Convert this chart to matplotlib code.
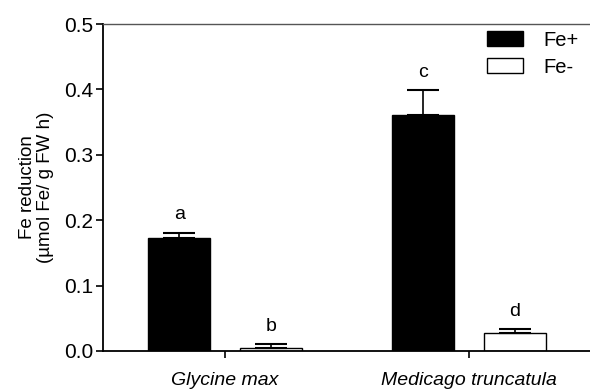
import numpy as np
import matplotlib.pyplot as plt

plt.rcParams['font.family'] = ['Liberation Sans', 'DejaVu Sans']

species = ['Glycine max', 'Medicago truncatula']
fe_plus = [0.173, 0.361]
fe_plus_err = [0.008, 0.038]
fe_minus = [0.005, 0.028]
fe_minus_err = [0.005, 0.006]
letters_plus = ['a', 'c']
letters_minus = ['b', 'd']

fig = plt.figure(figsize=(5.9, 3.92), dpi=100)
ax = fig.add_axes([103/590, 1-351/392, (605-103)/590, (351-24)/392])

x = np.arange(len(species))
w = 0.254
off = 0.187

ax.bar(x - off, fe_plus, w, color='black', edgecolor='black', linewidth=1, label='Fe+')
ax.bar(x + off, fe_minus, w, color='white', edgecolor='black', linewidth=1, label='Fe-')
ax.errorbar(x - off, fe_plus, yerr=[np.zeros(2), fe_plus_err], fmt='none',
            ecolor='black', elinewidth=1.2, capsize=11.5, capthick=1.5)
ax.errorbar(x + off, fe_minus, yerr=[np.zeros(2), fe_minus_err], fmt='none',
            ecolor='black', elinewidth=1.2, capsize=11.5, capthick=1.5)

for i in range(len(species)):
    ax.text(x[i] - off, fe_plus[i] + fe_plus_err[i] + 0.014, letters_plus[i],
            ha='center', va='bottom', fontsize=14)
    ax.text(x[i] + off, fe_minus[i] + fe_minus_err[i] + 0.014, letters_minus[i],
            ha='center', va='bottom', fontsize=14)

ax.set_xlim(-0.5, 1.557)
ax.set_ylim(0, 0.5)
ax.set_yticks([0, 0.1, 0.2, 0.3, 0.4, 0.5])
ax.set_yticklabels(['0.0', '0.1', '0.2', '0.3', '0.4', '0.5'], fontsize=15)
ax.set_xticks(x)
ax.set_xticklabels(species, fontsize=14, style='italic')
ax.tick_params(axis='both', direction='out', length=5, width=1.2)
ax.tick_params(axis='y', pad=2)
ax.tick_params(axis='x', pad=10)
ax.set_ylabel('Fe reduction\n(µmol Fe/ g FW h)', fontsize=13.5, labelpad=7,
              linespacing=1.1)

ax.spines['right'].set_visible(False)
ax.spines['left'].set_linewidth(1.3)
ax.spines['bottom'].set_linewidth(1.3)
ax.spines['top'].set_linewidth(1.0)
ax.spines['top'].set_color('#555555')

ax.legend(loc='upper left', bbox_to_anchor=(0.765, 0.98), frameon=False,
          fontsize=14.5, handlelength=1.8, handleheight=0.7, labelspacing=0.4,
          handletextpad=1.0, borderaxespad=0, borderpad=0)

fig.savefig('out.png', dpi=100)
